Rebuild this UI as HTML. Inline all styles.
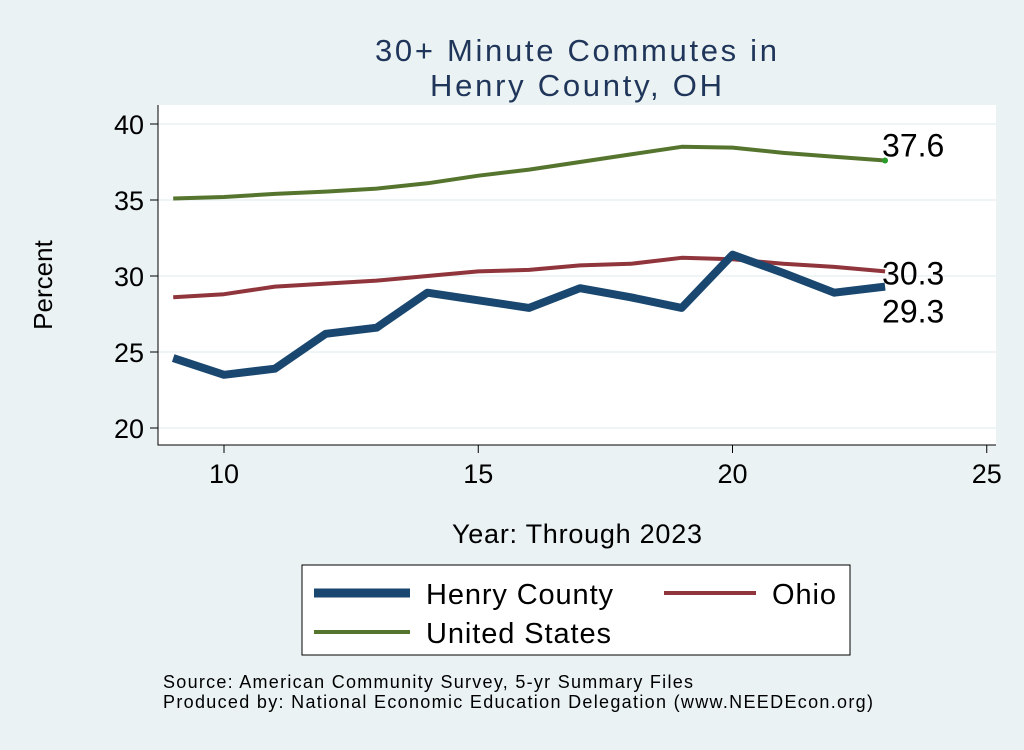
<!DOCTYPE html>
<html><head><meta charset="utf-8"><style>
body{margin:0;background:#eaf2f3;font-family:"Liberation Sans",sans-serif}
</style></head><body>
<svg width="1024" height="745" viewBox="0 0 1024 745" xmlns="http://www.w3.org/2000/svg">
<rect width="1024" height="745" fill="#eaf2f3"/>
<text x="576" y="61" font-size="31" fill="#1f3559" text-anchor="middle" textLength="402">30+ Minute Commutes in</text>
<text x="576" y="96" font-size="31" fill="#1f3559" text-anchor="middle" textLength="292">Henry County, OH</text>
<rect x="158" y="105" width="838" height="340" fill="#ffffff"/>
<g id="grid"></g>
<g id="axes"></g>
<g id="series"></g>
<text x="52" y="285" font-size="26" text-anchor="middle" transform="rotate(-90 52 285)" dy="0">Percent</text>
<text x="577" y="543" font-size="27" text-anchor="middle" textLength="250">Year: Through 2023</text>
<g>
<rect x="302" y="565" width="548" height="90" fill="#fff" stroke="#000" stroke-width="1"/>
<line x1="314" y1="593" x2="410" y2="593" stroke="#1a476f" stroke-width="9"/>
<text x="426" y="604" font-size="29" textLength="187">Henry County</text>
<line x1="664" y1="593" x2="756" y2="593" stroke="#90353b" stroke-width="4"/>
<text x="772" y="604" font-size="29" textLength="64">Ohio</text>
<line x1="314" y1="632" x2="410" y2="632" stroke="#55752f" stroke-width="4"/>
<text x="426" y="643" font-size="29" textLength="185">United States</text>
</g>
<text x="163" y="688" font-size="18" textLength="530">Source: American Community Survey, 5-yr Summary Files</text>
<text x="163" y="708" font-size="18" textLength="710">Produced by: National Economic Education Delegation (www.NEEDEcon.org)</text>
</svg>
<script>
const years=[9,10,11,12,13,14,15,16,17,18,19,20,21,22,23];
const henry=[24.6,23.5,23.9,26.2,26.6,28.9,28.4,27.9,29.2,28.6,27.9,31.4,30.2,28.9,29.3];
const ohio=[28.6,28.8,29.3,29.5,29.7,30.0,30.3,30.4,30.7,30.8,31.2,31.1,30.8,30.6,30.3];
const us=[35.1,35.2,35.4,35.55,35.75,36.1,36.6,37.0,37.5,38.0,38.5,38.45,38.1,37.85,37.6];
const xTicks=[10,15,20,25];
const yTicks=[20,25,30,35,40];
const NS="http://www.w3.org/2000/svg";
const xs=v=>224+(v-10)*50.85;
const ys=v=>428-(v-20)*15.2;
function mk(tag,attrs,parent,txt){const e=document.createElementNS(NS,tag);for(const k in attrs)e.setAttribute(k,attrs[k]);if(txt!==undefined)e.textContent=txt;document.getElementById(parent).appendChild(e);return e;}
yTicks.forEach(t=>{
 const g=mk('line',{x1:158,x2:996,y1:ys(t),y2:ys(t),stroke:'#eaf2f3','stroke-width':1.5},'grid');
 
 
 const tk=mk('line',{x1:150,x2:158,y1:ys(t),y2:ys(t),stroke:'#000'},'axes');
 
 
 const l=mk('text',{x:144,y:ys(t)+10,'font-size':27,'text-anchor':'end'},'axes',t);
 
 
});
xTicks.forEach(t=>{
 const tk=mk('line',{x1:xs(t),x2:xs(t),y1:445,y2:453,stroke:'#000'},'axes');
 
 
 const l=mk('text',{x:xs(t),y:483,'font-size':27,'text-anchor':'middle'},'axes',t);
 
 
});
const ax=mk('path',{d:'M158 105 V445 H996',fill:'none',stroke:'#000','stroke-width':1},'axes');


function line(vals,color,w,name){
 const d=vals.map((v,i)=>(i?'L':'M')+xs(years[i]).toFixed(1)+' '+ys(v).toFixed(1)).join(' ');
 const p=mk('path',{d:d,fill:'none',stroke:color,'stroke-width':w,'stroke-linejoin':'round'},'series');
 
 
}
line(us,'#55752f',4,'line-united-states');
line(ohio,'#90353b',4,'line-ohio');
line(henry,'#1a476f',8,'line-henry-county');
const n=years.length-1;
const lx=xs(years[n]);
const dot=mk('circle',{cx:lx,cy:ys(us[n]),r:3,fill:'#2a9a2a'},'series');


const l1=mk('text',{x:lx-3,y:ys(us[n])-4,'font-size':32},'series',us[n].toFixed(1));


const l2=mk('text',{x:lx-3,y:ys(ohio[n])+13,'font-size':32},'series',ohio[n].toFixed(1));


const l3=mk('text',{x:lx-3,y:ys(henry[n])+36,'font-size':32},'series',henry[n].toFixed(1));


</script>
</body></html>
